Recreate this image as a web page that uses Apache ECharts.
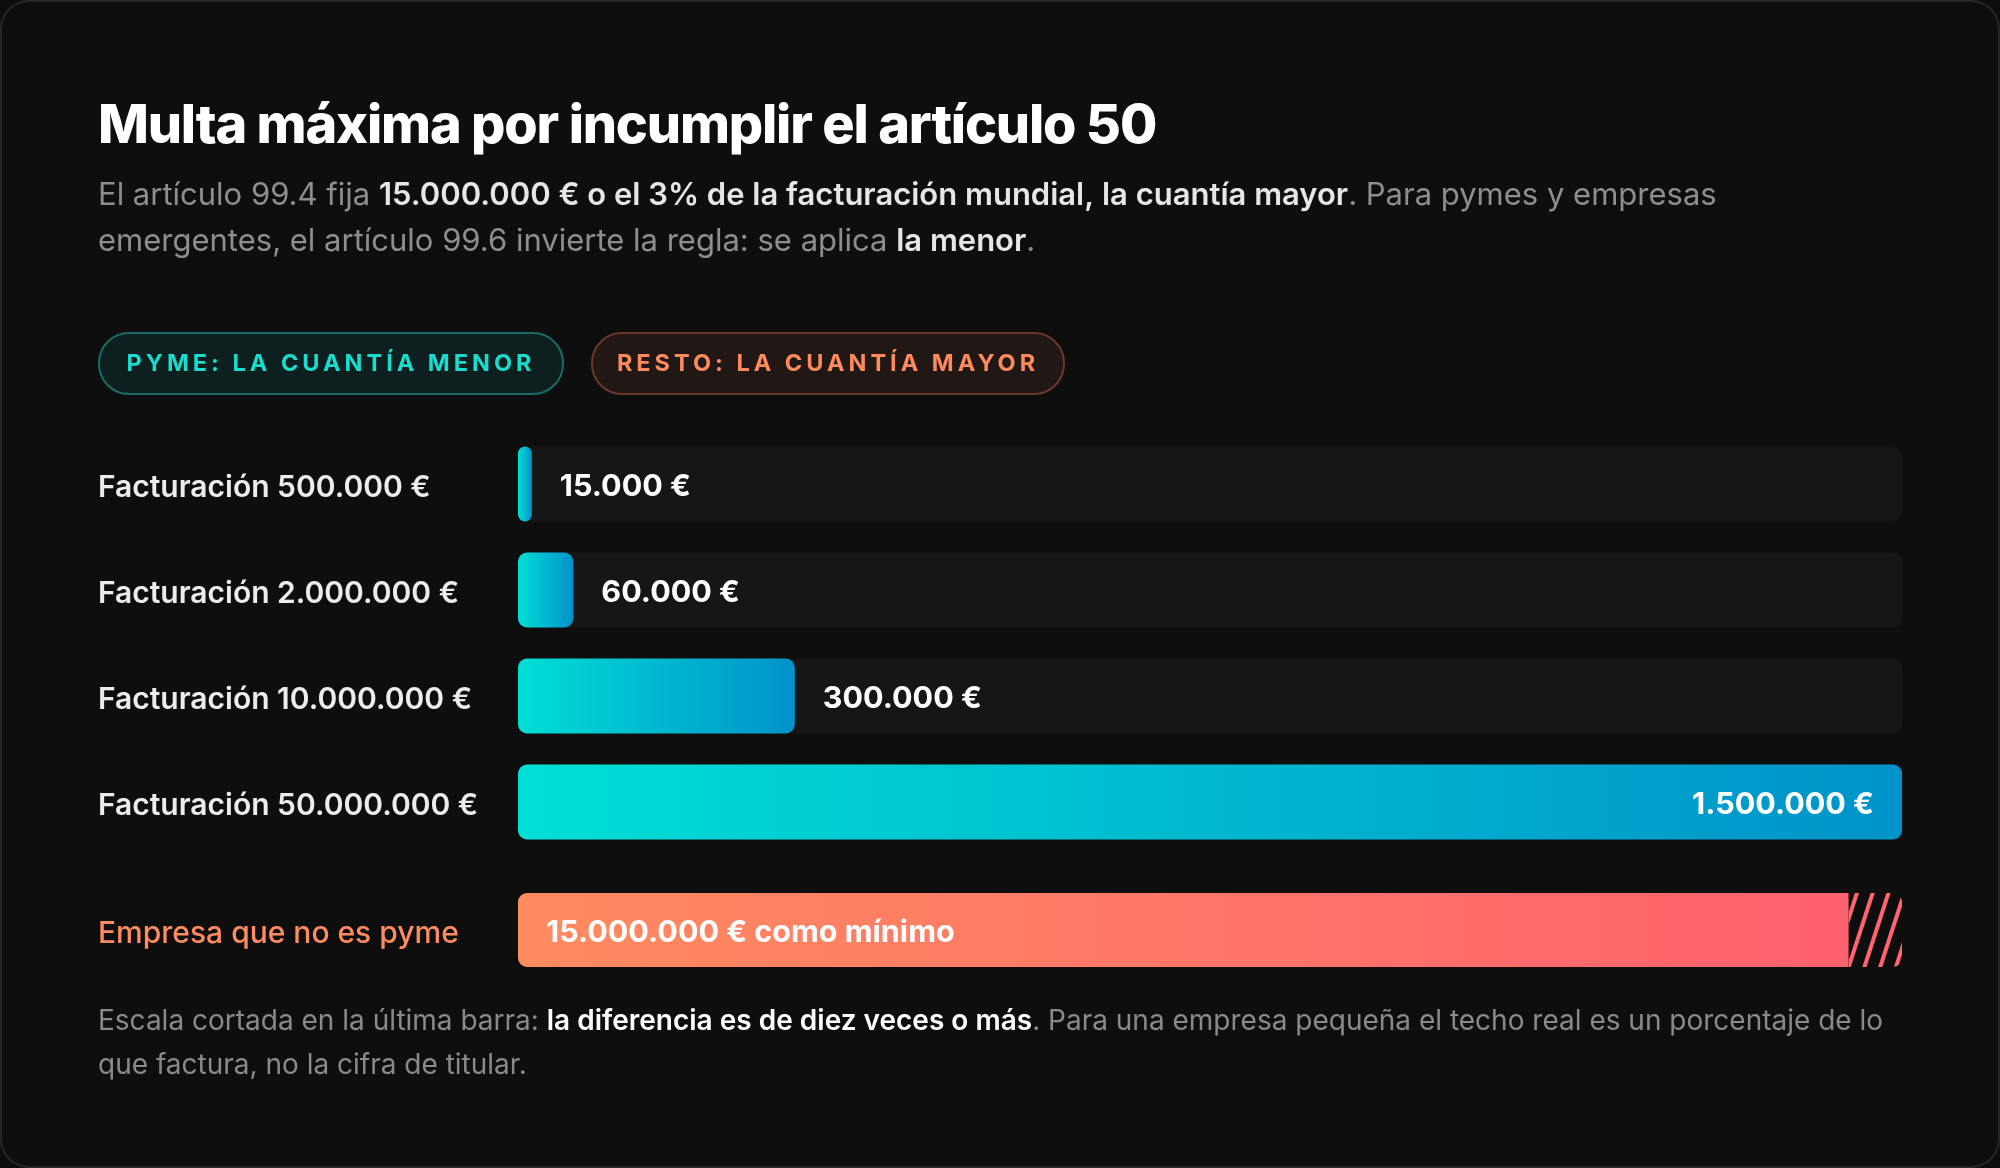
<!DOCTYPE html>
<html>
<head>
<meta charset="utf-8">
<title>Multa máxima por incumplir el artículo 50</title>
<script src="https://cdn.jsdelivr.net/npm/echarts@6/dist/echarts.min.js"></script>
<style>
  html, body { margin: 0; padding: 0; background: #0e0e0e; }
  #chart { width: 2000px; height: 1168px; }
</style>
</head>
<body>
<div id="chart"></div>
<script>
// datos
var categories = ['Facturación 500.000 €', 'Facturación 2.000.000 €', 'Facturación 10.000.000 €', 'Facturación 50.000.000 €'];
var pymeFines = [15000, 60000, 300000, 1500000];
var restoCategory = ['Empresa que no es pyme'];
var restoFine = [15000000];
var restoCutTail = [600000]; // tramo rayado: la escala se corta aqui
var pillLabels = ['PYME: LA CUANTÍA MENOR', 'RESTO: LA CUANTÍA MAYOR'];
var titleText = 'Multa máxima por incumplir el artículo 50';

// canvas no tiene letter-spacing en echarts, lo aplicamos solo a estos textos
var tracking = {};
tracking[pillLabels[0]] = '4px';
tracking[pillLabels[1]] = '4px';
tracking[titleText] = '-1.2px';
var rawFillText = CanvasRenderingContext2D.prototype.fillText;
function setSpacing(ctx, ls) {
  var f = ctx.font;
  ctx.letterSpacing = ls;
  // chrome solo recalcula la fuente cuando cambia ctx.font
  ctx.font = '10px serif';
  ctx.font = f;
}
CanvasRenderingContext2D.prototype.fillText = function (t) {
  var ls = tracking[t];
  if (ls && 'letterSpacing' in this) {
    setSpacing(this, ls);
    rawFillText.apply(this, arguments);
    setSpacing(this, '0px');
    return;
  }
  return rawFillText.apply(this, arguments);
};

function euros(n) {
  return String(n).replace(/\B(?=(\d{3})+(?!\d))/g, '.') + ' €';
}

var myChart = echarts.init(document.getElementById('chart'));

var teal = new echarts.graphic.LinearGradient(0, 0, 1, 0, [
  { offset: 0, color: '#00dfd6' },
  { offset: 1, color: '#0092ca' }
]);
var coral = new echarts.graphic.LinearGradient(0, 0, 1, 0, [
  { offset: 0, color: '#ff8b60' },
  { offset: 1, color: '#ff616e' }
]);

function rowLabel(v) { return '{a|' + v + '}'; }

var option = {
  backgroundColor: '#0e0e0e',
  textStyle: { fontFamily: 'Inter' },
  animation: false,
  title: [
    {
      text: titleText,
      left: 98, top: 97, padding: 0,
      textStyle: { color: '#ffffff', fontSize: 54, fontWeight: 800, lineHeight: 60 }
    },
    {
      text: 'El artículo 99.4 fija {b|15.000.000 € o el 3% de la facturación mundial, la cuantía mayor}. Para pymes y empresas\nemergentes, el artículo 99.6 invierte la regla: se aplica {b|la menor}.',
      left: 98, top: 173, padding: 0,
      textStyle: {
        color: '#8e8e8e', fontSize: 31, fontWeight: 400, lineHeight: 46,
        rich: { b: { color: '#e6e6e6', fontSize: 31, fontWeight: 600, lineHeight: 46 } }
      }
    },
    {
      text: 'Escala cortada en la última barra: {b|la diferencia es de diez veces o más}. Para una empresa pequeña el techo real es un porcentaje de lo\nque factura, no la cifra de titular.',
      left: 98, top: 1000, padding: 0,
      textStyle: {
        color: '#8a8a8a', fontSize: 28, fontWeight: 400, lineHeight: 44,
        rich: { b: { color: '#ffffff', fontSize: 28, fontWeight: 600, lineHeight: 44 } }
      }
    }
  ],
  graphic: [
    {
      type: 'rect', z: -10, silent: true,
      shape: { x: 1, y: 1, width: 1998, height: 1166, r: 28 },
      style: { fill: 'none', stroke: '#262626', lineWidth: 2 }
    },
    {
      type: 'group', left: 98, top: 332,
      children: [
        { type: 'rect', shape: { x: 0, y: 0, width: 464, height: 61, r: 30 },
          style: { fill: '#0d1f1e', stroke: '#1b6b67', lineWidth: 2 } },
        { type: 'text', x: 232, y: 31,
          style: { text: pillLabels[0], fill: '#18dccd', font: 'bold 23.5px Inter', align: 'center', verticalAlign: 'middle' } }
      ]
    },
    {
      type: 'group', left: 591, top: 332,
      children: [
        { type: 'rect', shape: { x: 0, y: 0, width: 472, height: 61, r: 30 },
          style: { fill: '#211714', stroke: '#69392a', lineWidth: 2 } },
        { type: 'text', x: 236, y: 31,
          style: { text: pillLabels[1], fill: '#ff8a5c', font: 'bold 23.5px Inter', align: 'center', verticalAlign: 'middle' } }
      ]
    }
  ],
  grid: [
    { left: 518, width: 1384, top: 431, height: 424 },
    { left: 518, width: 1384, top: 893, height: 74 }
  ],
  xAxis: [
    { gridIndex: 0, type: 'value', min: 0, max: 1500000, show: false },
    { gridIndex: 1, type: 'value', min: 0, max: function (e) { return e.max; }, show: false }
  ],
  yAxis: [
    {
      gridIndex: 0, type: 'category', inverse: true, data: categories,
      axisLine: { show: false }, axisTick: { show: false },
      axisLabel: {
        align: 'left', margin: 420, formatter: rowLabel,
        rich: { a: { padding: [7, 0, 0, 0], color: '#ececec', fontSize: 30, fontWeight: 600 } }
      }
    },
    {
      gridIndex: 1, type: 'category', data: restoCategory,
      axisLine: { show: false }, axisTick: { show: false },
      axisLabel: {
        align: 'left', margin: 420, formatter: rowLabel,
        rich: { a: { padding: [7, 0, 0, 0], color: '#ff8c5e', fontSize: 30, fontWeight: 500 } }
      }
    }
  ],
  series: [
    {
      name: pillLabels[0],
      type: 'bar',
      xAxisIndex: 0, yAxisIndex: 0,
      barWidth: 75,
      showBackground: true,
      backgroundStyle: { color: '#161616', borderRadius: 9 },
      itemStyle: { color: teal, borderRadius: 9 },
      label: {
        show: true, position: 'right', distance: 28, offset: [0, 3],
        color: '#ffffff', fontSize: 30.5, fontWeight: 700,
        formatter: function (p) { return euros(p.value); }
      },
      data: pymeFines.map(function (v, i) {
        if (i === pymeFines.length - 1) {
          return { value: v, label: { position: 'insideRight', distance: 28 } };
        }
        return v;
      })
    },
    {
      name: pillLabels[1],
      type: 'bar',
      xAxisIndex: 1, yAxisIndex: 1,
      stack: 'resto',
      barWidth: 74,
      itemStyle: { color: coral, borderRadius: [9, 0, 0, 9] },
      label: {
        show: true, position: 'insideLeft', distance: 28, offset: [0, 3],
        color: '#ffffff', fontSize: 30.5, fontWeight: 700,
        formatter: function (p) { return euros(p.value) + ' como mínimo'; }
      },
      data: restoFine
    },
    {
      name: 'corte',
      type: 'bar',
      xAxisIndex: 1, yAxisIndex: 1,
      stack: 'resto',
      barWidth: 74,
      silent: true,
      itemStyle: {
        color: '#0e0e0e',
        borderRadius: [0, 9, 9, 0],
        decal: {
          symbol: 'rect', symbolSize: 1, color: '#ff6470',
          dashArrayX: [1, 0], dashArrayY: [4, 11],
          rotation: -Math.PI * 72 / 180
        }
      },
      data: restoCutTail
    }
  ]
};

myChart.setOption(option);
</script>
</body>
</html>
